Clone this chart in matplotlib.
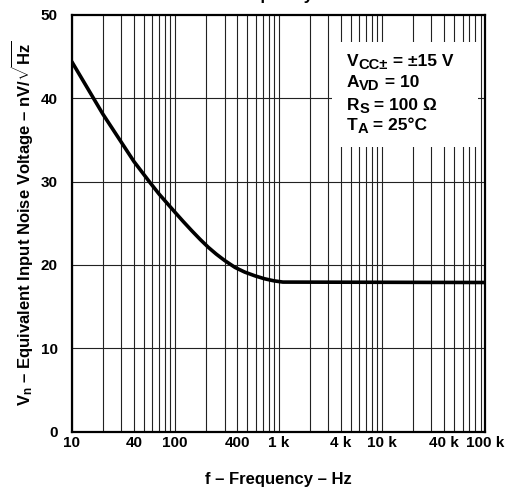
import numpy as np
import matplotlib
matplotlib.use("Agg")
import matplotlib.pyplot as plt
from matplotlib.patches import Rectangle

plt.rcParams['font.family'] = ['Liberation Sans', 'DejaVu Sans']
plt.rcParams['font.weight'] = 'bold'
plt.rcParams['mathtext.fontset'] = 'custom'
plt.rcParams['mathtext.rm'] = 'Liberation Sans:bold'
plt.rcParams['mathtext.bf'] = 'Liberation Sans:bold'
plt.rcParams['mathtext.it'] = 'Liberation Sans:bold'

# Kurve
freq = [10, 20, 40, 57, 70, 90, 100, 120, 145, 175, 210, 250, 300, 380,
        470, 590, 730, 900, 1100, 100000]
vn = [44.4, 38.1, 32.4, 29.9, 28.5, 26.95, 26.3, 25.2, 24.1, 23.05, 22.1, 21.3,
      20.55, 19.7, 19.15, 18.7, 18.35, 18.1, 17.95, 17.9]

xtick_vals = [10, 40, 100, 400, 1000, 4000, 10000, 40000, 100000]
xtick_labels = ['10', '40', '100', '400', '1 k', '4 k', '10 k', '40 k', '100 k']
ytick_vals = [0, 10, 20, 30, 40, 50]

# Bedingungen: (Zeichen, Index, Rest)
cond_main = ['V', 'A', 'R', 'T']
cond_sub = ['CC±', 'VD', 'S', 'A']
cond_rest = [' = ±15 V', ' = 10', ' = 100 Ω', ' = 25°C']
cond_y = [0.877, 0.826, 0.772, 0.723]

fig = plt.figure(figsize=(5.28, 4.88), dpi=100)
ax = fig.add_axes([0.1358, 0.1152, 0.7837, 0.8545])

# Gitter
grid_x = [m * 10 ** d for d in range(1, 5) for m in range(1, 10)] + [100000]
for gx in grid_x:
    ax.axvline(gx, color='#222222', lw=0.8, zorder=1)
for gy in [10, 20, 30, 40]:
    ax.axhline(gy, color='#222222', lw=0.8, zorder=1)

# weisser Kasten fuer die Bedingungen
ax.add_patch(Rectangle((0.63, 0.683), 0.352, 0.252, transform=ax.transAxes,
                       facecolor='white', edgecolor='none', zorder=2))

ax.plot(freq, vn, color='black', lw=2.6, zorder=3, solid_capstyle='butt',
        solid_joinstyle='round')

ax.set_xscale('log')
ax.set_xlim(10, 100000)
ax.set_ylim(0, 50)
ax.set_xticks(xtick_vals)
ax.set_xticklabels(xtick_labels)
ax.xaxis.set_minor_locator(matplotlib.ticker.NullLocator())
ax.set_yticks(ytick_vals)
ax.tick_params(axis='x', length=0, labelsize=11, pad=3)
ax.tick_params(axis='y', length=0, labelsize=11, pad=10)
for s in ax.spines.values():
    s.set_linewidth(1.6)

ax.set_xlabel('f – Frequency – Hz', fontsize=12, fontweight='bold', labelpad=16)
ax.set_ylabel(r'$\mathregular{V_n}$ – Equivalent Input Noise Voltage – nV/$\sqrt{\mathregular{Hz}}$',
              fontsize=12, fontweight='bold', labelpad=4)

size = 12.5
for m, sb, r, y in zip(cond_main, cond_sub, cond_rest, cond_y):
    t1 = ax.text(0.665, y, m, transform=ax.transAxes, fontsize=size, va='baseline', zorder=4)
    t2 = ax.annotate(sb, xy=(1, 0), xycoords=t1, fontsize=size * 0.85,
                     va='baseline', zorder=4)
    ax.annotate(r, xy=(1, 0), xycoords=(t2, t1), fontsize=size,
                va='bottom', zorder=4)

# abgeschnittener Titel oben
fig.text(272 / 528, 1.0, 'Frequency', ha='center', va='baseline',
         fontsize=12, fontweight='bold')

fig.savefig('out.png', dpi=100)
